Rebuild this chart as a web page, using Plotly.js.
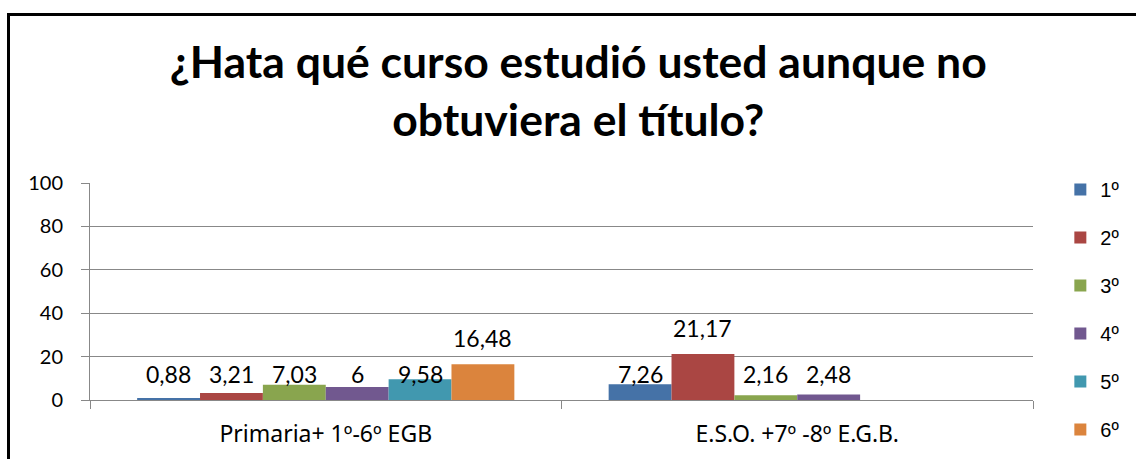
<!DOCTYPE html>
<html>
<head>
<meta charset="utf-8">
<script src="https://cdn.plot.ly/plotly-3.0.1.min.js"></script>
<style>
  html, body { margin: 0; padding: 0; background: #fff; overflow: hidden; }
  #chart { position: absolute; left: 0; top: 0; width: 1136px; height: 459px; }
  #frame { position: absolute; left: 7px; top: 13px; width: 1200px; height: 500px;
           border: 3px solid #000; pointer-events: none; }
</style>
</head>
<body>
<div id="chart"></div>
<div id="frame"></div>
<script>
// ---- data ----
const categories = ['Primaria+ 1º-6º EGB', 'E.S.O. +7º -8º E.G.B.'];
const seriesNames = ['1º', '2º', '3º', '4º', '5º', '6º'];
const s1 = [0.88, 7.26];
const s2 = [3.21, 21.17];
const s3 = [7.03, 2.16];
const s4 = [6, 2.48];
const s5 = [9.58, null];
const s6 = [16.48, null];
const yTicks = [0, 20, 40, 60, 80, 100];
const titleText = '¿Hata qué curso estudió usted aunque no<br>obtuviera el título?';

// ---- styles ----
const colors = ['#4572A7', '#AA4643', '#89A54E', '#71588F', '#4198AF', '#DB843D'];
const FONT = 'Lato, "Open Sans", sans-serif';
const FONT_CAT = '"Noto Sans", "Open Sans", sans-serif';
const FONT_LEG = '"Liberation Sans", Arial, sans-serif';
const series = [s1, s2, s3, s4, s5, s6];
const bargap = 0.2;

const traces = series.map((vals, i) => ({
  type: 'bar',
  name: seriesNames[i],
  x: categories,
  y: vals,
  marker: { color: colors[i] },
  legendgroup: 'g' + i,
  hoverinfo: 'none'
}));

// data labels (decimal comma), placed over each bar's slot
const annotations = [];
const n = series.length;
const bw = (1 - bargap) / n;
series.forEach((vals, i) => {
  vals.forEach((v, c) => {
    if (v === null || v === undefined) return;
    annotations.push({
      xref: 'x', yref: 'y',
      x: c + (i - (n - 1) / 2) * bw,
      y: v >= 10 ? v : 0,
      yanchor: 'bottom', xanchor: 'center',
      yshift: 10,
      text: String(v).replace('.', ','),
      showarrow: false,
      font: { family: FONT, size: 23, color: '#000' }
    });
  });
});

const layout = {
  width: 1136, height: 459,
  margin: { l: 90, r: 103, t: 183, b: 59, autoexpand: false },
  paper_bgcolor: 'rgba(0,0,0,0)',
  plot_bgcolor: 'rgba(0,0,0,0)',
  barmode: 'group',
  bargap: bargap,
  bargroupgap: 0,
  title: {
    text: titleText,
    font: { family: FONT, size: 44.5, color: '#000', weight: 'bold' },
    x: 0.509, xanchor: 'center',
    y: 0.83, yanchor: 'top', yref: 'container'
  },
  xaxis: {
    type: 'category',
    showline: true, linecolor: '#888', linewidth: 1,
    ticks: 'outside', tickson: 'boundaries', ticklen: 8, tickcolor: '#888',
    ticklabelstandoff: 13,
    showgrid: false,
    tickfont: { family: FONT_CAT, size: 23, color: '#000' },
    fixedrange: true
  },
  yaxis: {
    range: [0, 100],
    tickvals: yTicks,
    showline: true, linecolor: '#888', linewidth: 1,
    ticks: 'outside', ticklen: 8, tickcolor: '#888',
    ticklabelstandoff: 14,
    showgrid: true, gridcolor: '#888', gridwidth: 1,
    zeroline: false,
    tickfont: { family: FONT, size: 20, color: '#000' },
    fixedrange: true
  },
  showlegend: true,
  legend: {
    x: 1.029, xanchor: 'left',
    y: 1.06, yanchor: 'top',
    traceorder: 'grouped',
    tracegroupgap: 19,
    maxheight: 320,
    font: { family: FONT_LEG, size: 20, color: '#000' },
    bgcolor: 'rgba(0,0,0,0)'
  },
  annotations: annotations
};

Plotly.newPlot('chart', traces, layout, { displayModeBar: false, staticPlot: true });
</script>
</body>
</html>
